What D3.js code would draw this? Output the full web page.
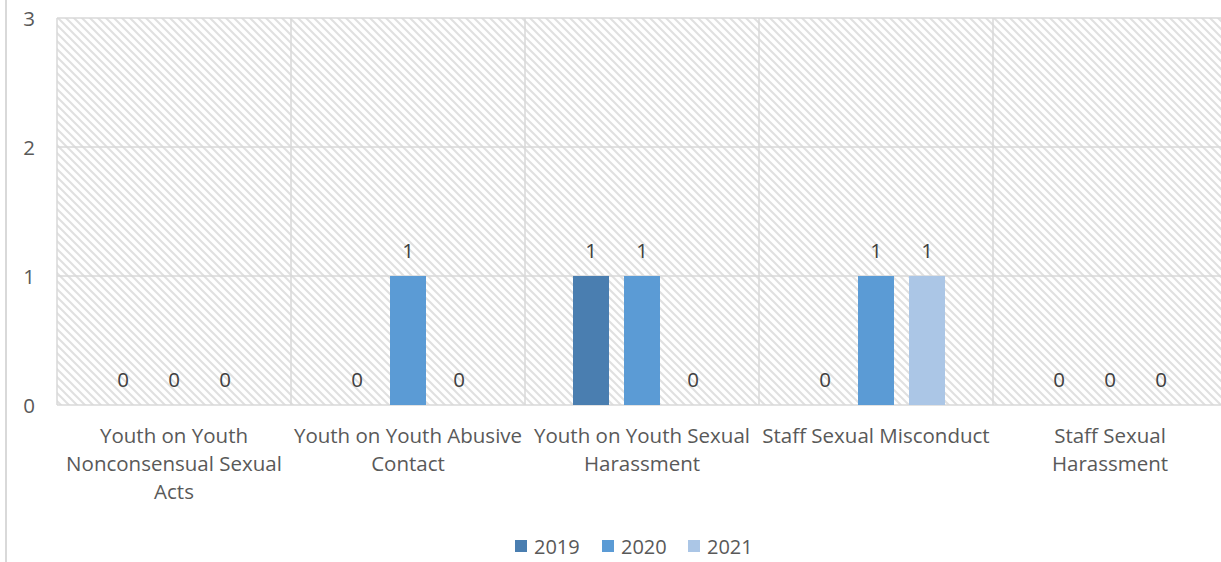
<!DOCTYPE html>
<html><head><meta charset="utf-8">
<script src="https://cdn.jsdelivr.net/npm/d3@7"></script>
<style>html,body{margin:0;padding:0;background:#fff;} svg{display:block;}</style>
</head><body>
<script>
const categories = ["Youth on Youth Nonconsensual Sexual Acts","Youth on Youth Abusive Contact","Youth on Youth Sexual Harassment","Staff Sexual Misconduct","Staff Sexual Harassment"];
const categoryLines = [["Youth on Youth","Nonconsensual Sexual","Acts"],["Youth on Youth Abusive","Contact"],["Youth on Youth Sexual","Harassment"],["Staff Sexual Misconduct"],["Staff Sexual","Harassment"]];
const seriesNames = ["2019","2020","2021"];
const values2019 = [0,0,1,0,0];
const values2020 = [0,1,1,1,0];
const values2021 = [0,0,0,1,0];
const yTicks = [0,1,2,3];
const colors = ["#4a7eb0","#5b9bd5","#abc6e6"];

const W = 1221, H = 562;
const plot = {left:57, right:1227, top:18, bottom:405};
const font = "'Open Sans', sans-serif";
const svg = d3.select("body").append("svg").attr("width",W).attr("height",H);

const defs = svg.append("defs");
const pat = defs.append("pattern").attr("id","hatch").attr("patternUnits","userSpaceOnUse")
  .attr("width",8).attr("height",8);
pat.append("rect").attr("width",8).attr("height",8).attr("fill","#fff");
pat.append("path").attr("d","M-2,-2L10,10M-2,6L2,10M6,-2L10,2").attr("stroke","#e0e0e0").attr("stroke-width",2);

const x0 = d3.scaleBand().domain(categories).range([plot.left, plot.right]).paddingInner(0).paddingOuter(0);
const x1 = d3.scaleBand().domain(seriesNames).range([48, 234-48]).paddingInner(15/51).paddingOuter(0);
const y = d3.scaleLinear().domain([0,3]).range([plot.bottom, plot.top]);

// outer chart border (left side)
svg.append("line").attr("x1",6).attr("x2",6).attr("y1",0).attr("y2",H).attr("stroke","#d9d9d9").attr("stroke-width",2);

// plot background
svg.append("rect").attr("x",plot.left).attr("y",plot.top).attr("width",plot.right-plot.left).attr("height",plot.bottom-plot.top).attr("fill","url(#hatch)");

// grid
const grid = svg.append("g");
yTicks.forEach(t => {
  grid.append("line").attr("x1",plot.left).attr("x2",plot.right).attr("y1",y(t)).attr("y2",y(t))
    .attr("stroke","#d9d9d9").attr("stroke-width",1.5);
});
categories.forEach(c => {
  grid.append("line").attr("x1",x0(c)).attr("x2",x0(c)).attr("y1",plot.top).attr("y2",plot.bottom)
    .attr("stroke","#d9d9d9").attr("stroke-width",1.5);
});

// y axis labels
const yAxis = d3.axisLeft(y).tickValues(yTicks).tickSize(0).tickPadding(0).tickFormat(d3.format("d"));
const ya = svg.append("g").attr("transform","translate(35,0)").call(yAxis);
ya.select(".domain").remove();
ya.selectAll("text").attr("font-family",font).attr("font-size",20.5).attr("fill","#595959").attr("dy","0.35em");

// bars
const allSeries = [values2019, values2020, values2021];
const data = [];
categories.forEach((c,i) => seriesNames.forEach((s,j) => data.push({c, s, v: allSeries[j][i], j})));
const g = svg.append("g");
g.selectAll("rect").data(data.filter(d=>d.v>0)).join("rect")
  .attr("x", d => x0(d.c)+x1(d.s)).attr("width", x1.bandwidth())
  .attr("y", d => y(d.v)).attr("height", d => y(0)-y(d.v)).attr("fill", d => colors[d.j]);

g.selectAll("text").data(data).join("text")
  .attr("x", d => x0(d.c)+x1(d.s)+x1.bandwidth()/2).attr("y", d => y(d.v)-18)
  .attr("text-anchor","middle").attr("font-family",font).attr("font-size",20.5).attr("fill","#404040")
  .text(d => d.v);

// category labels
const cl = svg.append("g");
categories.forEach((c,i) => {
  const t = cl.append("text").attr("text-anchor","middle").attr("font-family",font).attr("font-size",20.5).attr("fill","#595959");
  categoryLines[i].forEach((ln,k) => {
    t.append("tspan").attr("x", x0(c)+x0.bandwidth()/2).attr("y", 443 + k*28).text(ln);
  });
});

// legend
const legX = [515, 602, 688];
const lg = svg.append("g");
seriesNames.forEach((s,j) => {
  lg.append("rect").attr("x",legX[j]).attr("y",540).attr("width",12).attr("height",12).attr("fill",colors[j]);
  lg.append("text").attr("x",legX[j]+19).attr("y",554).attr("font-family",font).attr("font-size",20).attr("fill","#595959").text(s);
});
</script>
</body></html>
